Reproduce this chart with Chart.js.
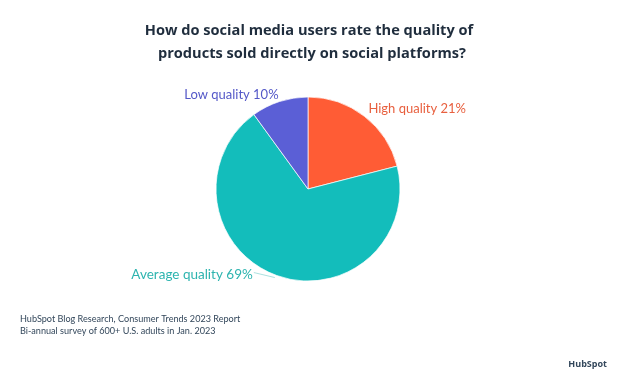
<!DOCTYPE html>
<html>
<head>
<meta charset="utf-8">
<script src="https://cdn.jsdelivr.net/npm/chart.js@4"></script>
<style>
html,body{margin:0;padding:0;background:#fff;}
#wrap{width:624px;height:380px;position:relative;}
</style>
</head>
<body>
<div id="wrap"><canvas id="c" width="624" height="380"></canvas></div>
<script>
const categories = ["High quality", "Average quality", "Low quality"];
const values = [21, 69, 10];
const sliceColors = ["#FF5C35", "#13BDBB", "#5B5FD6"];
const labelColors = ["#E8603F", "#2DB4AF", "#5458C8"];
const titleLines = ["How do social media users rate the quality of", "products sold directly on social platforms?"];
const footLines = ["HubSpot Blog Research, Consumer Trends 2023 Report", "Bi-annual survey of 600+ U.S. adults in Jan. 2023"];

const FONT = "Lato, 'Open Sans', sans-serif";

const textPlugin = {
  id: 'texts',
  afterDraw(chart) {
    const ctx = chart.ctx;
    ctx.save();
    // title
    ctx.fillStyle = '#1F2D3D';
    ctx.font = "bold 14.6px 'Open Sans', sans-serif";
    ctx.textAlign = 'center';
    ctx.textBaseline = 'middle';
    ctx.fillText(titleLines[0], 309, 31);
    ctx.fillText(titleLines[1], 312, 54);
    // slice labels
    const meta = chart.getDatasetMeta(0);
    const offs = [
      {dx: 3, dy: -7, align: 'left', leader: false},
      {dx: -23, dy: -1, align: 'right', leader: true},
      {dx: 0, dy: -7, align: 'right', leader: false}
    ];
    meta.data.forEach((arc, i) => {
      const p = arc.getProps(['x','y','startAngle','endAngle','outerRadius'], true);
      const mid = (p.startAngle + p.endAngle) / 2;
      const ex = p.x + Math.cos(mid) * p.outerRadius;
      const ey = p.y + Math.sin(mid) * p.outerRadius;
      const o = offs[i];
      const lx = ex + o.dx, ly = ey + o.dy;
      if (o.leader) {
        ctx.strokeStyle = labelColors[i];
        ctx.globalAlpha = 0.5;
        ctx.lineWidth = 0.8;
        ctx.beginPath();
        ctx.moveTo(ex - 2, ey + 2);
        ctx.lineTo(lx, ly - 2);
        ctx.stroke();
        ctx.globalAlpha = 1;
      }
      ctx.font = (i === 1 ? "13.5px " : "13px ") + FONT;
      ctx.fillStyle = labelColors[i];
      ctx.textAlign = o.align;
      ctx.textBaseline = 'middle';
      ctx.fillText(categories[i] + ' ' + values[i] + '%', lx + (o.align === 'left' ? 1 : -1), ly);
    });
    // footnote
    ctx.fillStyle = '#33475B';
    ctx.font = "9.1px " + FONT;
    ctx.textAlign = 'left';
    ctx.fillText(footLines[0], 20, 319);
    ctx.fillText(footLines[1], 20, 331);
    // logo
    ctx.font = "bold 9px 'Open Sans', sans-serif";
    ctx.fillStyle = '#33475B';
    ctx.textAlign = 'right';
    ctx.fillText('HubSpot', 607, 364);
    ctx.restore();
  }
};

new Chart(document.getElementById('c'), {
  type: 'pie',
  data: {
    labels: categories,
    datasets: [{
      data: values,
      backgroundColor: sliceColors,
      borderColor: 'rgba(255,255,255,0.7)',
      borderWidth: 1
    }]
  },
  options: {
    responsive: false,
    animation: false,
    layout: { padding: { top: 96.5, bottom: 98.5, left: 100, right: 108 } },
    plugins: { legend: { display: false }, tooltip: { enabled: false }, title: { display: false } }
  },
  plugins: [textPlugin]
});
</script>
</body>
</html>
